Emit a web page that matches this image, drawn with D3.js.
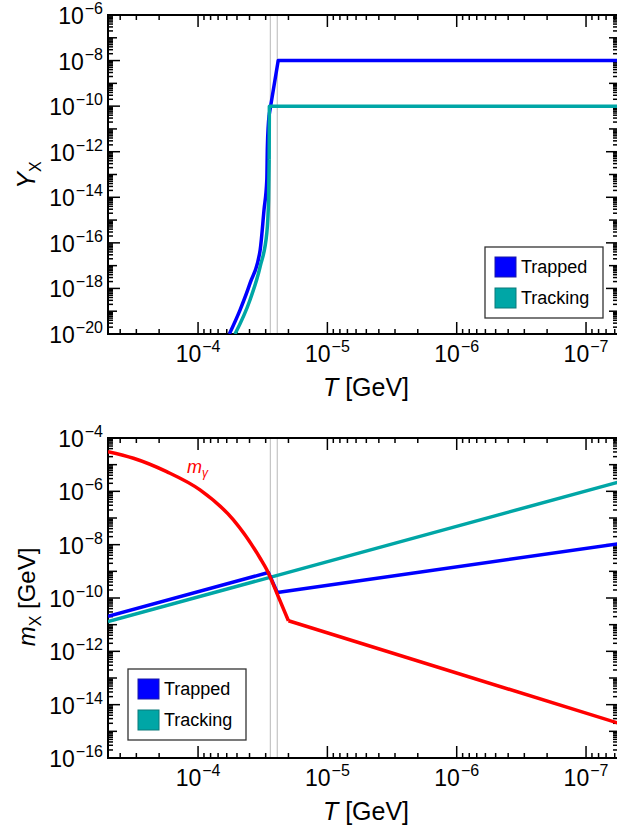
<!DOCTYPE html>
<html>
<head>
<meta charset="utf-8">
<script src="https://cdn.jsdelivr.net/npm/d3@7"></script>
<style>
body { margin: 0; background: #fff; }
svg { display: block; }
text { font-family: "Liberation Sans", Arial, sans-serif; fill: #000; }
</style>
</head>
<body>
<svg id="chart" width="617" height="829"></svg>
<script>
// x axis: temperature, decreasing to the right
const T_DOMAIN = [4.97e-4, 5.66e-8];
const T_LABELS = [1e-4, 1e-5, 1e-6, 1e-7];
const GUIDE_T = [2.76e-5, 2.44e-5];

// top panel: yield Y_X
const YIELD_DOMAIN = [1e-20, 1e-6];
const trappedYieldT = [5.73e-5, 4.73e-5, 3.96e-5, 3.31e-5, 3.09e-5, 2.94e-5, 2.91e-5, 2.82e-5, 2.40e-5, 5.66e-8];
const trappedYieldY = [1e-20, 1.15e-19, 1.7e-18, 4.9e-17, 2.8e-15, 5.8e-14, 1.7e-12, 4.1e-11, 1e-8, 1e-8];
const trackingYieldT = [5.18e-5, 3.96e-5, 3.31e-5, 2.94e-5, 2.85e-5, 2.82e-5, 2.81e-5, 5.66e-8];
const trackingYieldY = [1e-20, 3.2e-19, 9.1e-18, 2.7e-16, 7.8e-15, 4.4e-13, 1e-10, 1e-10];

// bottom panel: masses m_X and photon mass m_gamma
const MASS_DOMAIN = [1e-16, 1e-4];
const photonMassT = [4.97e-4, 3.16e-4, 1.75e-4, 9.66e-5, 5.33e-5, 3.31e-5, 2.94e-5, 2.46e-5, 2.00e-5, 5.66e-8];
const photonMassM = [3.07e-5, 1.74e-5, 5.47e-6, 1.13e-6, 8.5e-8, 3.1e-9, 1.14e-9, 1.53e-10, 1.4e-11, 2.04e-15];
const trappedMassT = [4.97e-4, 2.86e-5, 2.44e-5, 5.66e-8];
const trappedMassM = [2.04e-11, 9.0e-10, 1.6e-10, 1.07e-8];
const trackingMassT = [4.97e-4, 5.66e-8];
const trackingMassM = [1.3e-11, 2.2e-6];

const SERIES = ['Trapped', 'Tracking'];
const COLORS = { Trapped: '#0000ff', Tracking: '#00a6a6', photon: '#ff0000' };
const SWATCH_STROKE = { Trapped: '#1a1aa8', Tracking: '#0a7a7a' };

const left = 108;
const right = 618;
const panels = [
	{ id: 'yield', top: 15, bottom: 334, domain: YIELD_DOMAIN },
	{ id: 'mass', top: 438, bottom: 758, domain: MASS_DOMAIN }
];

const $svg = d3.select('#chart');
const x = d3.scaleLog().domain(T_DOMAIN).range([left, right]);

function zip(a, b) {
	return a.map((d, i) => [d, b[i]]);
}

function powLabel($text, exp) {
	$text.append('tspan').text('10');
	$text
		.append('tspan')
		.attr('font-size', 16)
		.attr('dx', 1)
		.attr('dy', -10)
		.text(`\u2212${Math.abs(exp)}`);
}

function drawPanel(p) {
	const y = d3.scaleLog().domain(p.domain).range([p.bottom, p.top]);
	p.y = y;
	const $g = $svg.append('g').attr('class', `panel ${p.id}`);

	$svg
		.append('clipPath')
		.attr('id', `clip-${p.id}`)
		.append('rect')
		.attr('x', left)
		.attr('y', p.top)
		.attr('width', right - left)
		.attr('height', p.bottom - p.top);

	// guide lines
	$g.selectAll('line.guide')
		.data(GUIDE_T)
		.enter()
		.append('line')
		.attr('class', 'guide')
		.attr('x1', d => x(d))
		.attr('x2', d => x(d))
		.attr('y1', p.top)
		.attr('y2', p.bottom)
		.attr('stroke', '#c4c4c4')
		.attr('stroke-width', 1.2);

	// x ticks (bottom and top, inward)
	const lo = Math.floor(Math.log10(T_DOMAIN[1]));
	const hi = Math.ceil(Math.log10(T_DOMAIN[0]));
	const xTicks = [];
	for (let e = lo; e <= hi; e++) {
		for (let k = 1; k <= 9; k++) {
			const v = k * Math.pow(10, e);
			if (v <= T_DOMAIN[0] && v >= T_DOMAIN[1]) xTicks.push({ v, len: k === 1 ? 12 : 5 });
		}
	}
	const $xt = $g.append('g').attr('stroke', '#000').attr('stroke-width', 1.5);
	xTicks.forEach(t => {
		const px = x(t.v);
		$xt.append('line').attr('x1', px).attr('x2', px).attr('y1', p.bottom).attr('y2', p.bottom - t.len);
		$xt.append('line').attr('x1', px).attr('x2', px).attr('y1', p.top).attr('y2', p.top + t.len);
	});

	// y ticks (left and right, inward)
	const e0 = Math.log10(p.domain[0]);
	const e1 = Math.log10(p.domain[1]);
	const $yt = $g.append('g').attr('stroke', '#000').attr('stroke-width', 1.5);
	for (let e = e0; e <= e1; e++) {
		for (let k = 1; k <= 9; k++) {
			if (e === e1 && k > 1) break;
			const v = k * Math.pow(10, e);
			let len = 5;
			if (k === 1) len = (e % 2 === 0) ? 12 : 9;
			const py = y(v);
			$yt.append('line').attr('x1', left).attr('x2', left + len).attr('y1', py).attr('y2', py);
			$yt.append('line').attr('x1', right).attr('x2', right - len).attr('y1', py).attr('y2', py);
		}
	}

	// y tick labels
	for (let e = e0; e <= e1; e += 2) {
		const $t = $g
			.append('text')
			.attr('x', 103)
			.attr('y', y(Math.pow(10, e)) + 9)
			.attr('text-anchor', 'end')
			.attr('font-size', 23);
		powLabel($t, e);
	}

	// x tick labels
	T_LABELS.forEach(v => {
		const $t = $g
			.append('text')
			.attr('x', x(v))
			.attr('y', p.bottom + 28)
			.attr('text-anchor', 'middle')
			.attr('font-size', 23);
		powLabel($t, Math.round(Math.log10(v)));
	});

	// x title
	const $xl = $g
		.append('text')
		.attr('x', 366)
		.attr('y', p.bottom + 62)
		.attr('text-anchor', 'middle')
		.attr('font-size', 25);
	$xl.append('tspan').attr('font-style', 'italic').text('T');
	$xl.append('tspan').text(' [GeV]');

	// frame
	$g.append('rect')
		.attr('x', left)
		.attr('y', p.top)
		.attr('width', right - left)
		.attr('height', p.bottom - p.top)
		.attr('fill', 'none')
		.attr('stroke', '#000')
		.attr('stroke-width', 2);

	p.$lines = $svg.append('g').attr('clip-path', `url(#clip-${p.id})`);
	return p;
}

// smoothEnd: index up to which the curve is smooth; the rest is straight
function drawLine(p, data, color, smoothEnd = 0) {
	const smooth = d3.line().curve(d3.curveMonotoneX).x(d => x(d[0])).y(d => p.y(d[1]));
	const straight = d3.line().x(d => x(d[0])).y(d => p.y(d[1]));
	const parts = [];
	if (smoothEnd > 0) parts.push({ d: smooth(data.slice(0, smoothEnd + 1)) });
	parts.push({ d: straight(data.slice(smoothEnd)) });
	p.$lines
		.selectAll(null)
		.data(parts)
		.enter()
		.append('path')
		.attr('d', d => d.d)
		.attr('fill', 'none')
		.attr('stroke', color)
		.attr('stroke-width', 3.5)
		.attr('stroke-linejoin', 'round');
}

function drawLegend(lx, ly) {
	const $l = $svg.append('g').attr('transform', `translate(${lx},${ly})`);
	$l.append('rect')
		.attr('width', 118)
		.attr('height', 71)
		.attr('fill', '#fff')
		.attr('stroke', '#333')
		.attr('stroke-width', 1.3);
	SERIES.forEach((s, i) => {
		$l.append('rect')
			.attr('x', 10)
			.attr('y', 10 + i * 31)
			.attr('width', 21)
			.attr('height', 20)
			.attr('fill', COLORS[s])
			.attr('stroke', SWATCH_STROKE[s])
			.attr('stroke-width', 1);
		$l.append('text')
			.attr('x', 36)
			.attr('y', 26 + i * 31)
			.attr('font-size', 18)
			.text(s);
	});
}

const [yieldPanel, massPanel] = panels.map(drawPanel);

drawLine(yieldPanel, zip(trappedYieldT, trappedYieldY), COLORS.Trapped, 7);
drawLine(yieldPanel, zip(trackingYieldT, trackingYieldY), COLORS.Tracking, 5);

drawLine(massPanel, zip(trackingMassT, trackingMassM), COLORS.Tracking);
drawLine(massPanel, zip(trappedMassT, trappedMassM), COLORS.Trapped);
drawLine(massPanel, zip(photonMassT, photonMassM), COLORS.photon, 8);

// m_gamma label
const $mg = $svg
	.append('text')
	.attr('x', x(1.22e-4))
	.attr('y', massPanel.y(4.9e-6))
	.attr('font-size', 18)
	.style('fill', COLORS.photon);
$mg.append('tspan').attr('font-style', 'italic').text('m');
$mg.append('tspan').attr('font-size', 12).attr('font-style', 'italic').attr('dy', 4).text('\u03b3');

// y titles
const $yl1 = $svg
	.append('text')
	.attr('transform', 'translate(35,175) rotate(-90)')
	.attr('text-anchor', 'middle')
	.attr('font-size', 25);
$yl1.append('tspan').attr('font-style', 'italic').text('Y');
$yl1.append('tspan').attr('font-size', 16).attr('dy', 6).text('X');

const $yl2 = $svg
	.append('text')
	.attr('transform', 'translate(35,597) rotate(-90)')
	.attr('text-anchor', 'middle')
	.attr('font-size', 24);
$yl2.append('tspan').attr('font-style', 'italic').text('m');
$yl2.append('tspan').attr('font-size', 16).attr('dy', 6).text('X');
$yl2.append('tspan').attr('dy', -6).text(' [GeV]');

drawLegend(485, 247);
drawLegend(128, 669);
</script>
</body>
</html>
